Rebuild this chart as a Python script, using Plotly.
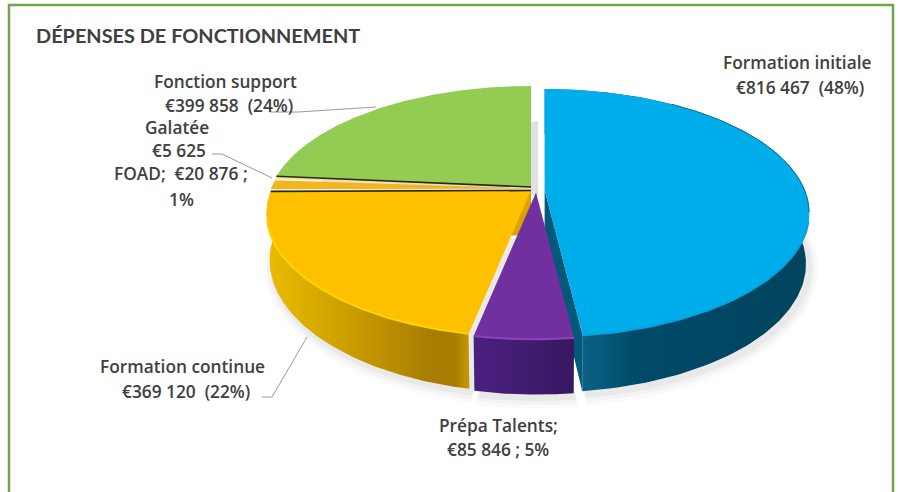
import numpy as np
import plotly.graph_objects as go

# ---- data ----
categories = ["Formation initiale", "Prépa Talents", "Formation continue", "FOAD", "Galatée", "Fonction support"]
values = [816467, 85846, 369120, 20876, 5625, 399858]

label_lines = [
    ("DÉPENSES DE FONCTIONNEMENT", 198, 35, 19.9, 700),
    ("Fonction support", 225, 81, 17.3, 600),
    ("€399 858  (24%)", 229, 105, 17.3, 600),
    ("Galatée", 177, 127, 17.3, 600),
    ("€5 625", 179, 150, 17.3, 600),
    ("FOAD;  €20 876 ;", 181, 173, 17.3, 600),
    ("1%", 181, 199, 17.3, 600),
    ("Formation initiale", 797, 62, 17.3, 600),
    ("€816 467  (48%)", 800, 87, 17.3, 600),
    ("Formation continue", 182, 366, 17.3, 600),
    ("€369 120  (22%)", 186, 391, 17.3, 600),
    ("Prépa Talents;", 498, 425, 17.3, 600),
    ("€85 846 ; 5%", 498, 449, 17.3, 600),
]
leaders = [
    ([270, 298, 376], [112, 112, 107]),
    ([212, 222, 272], [154, 154, 178]),
    ([262, 272, 307], [397, 397, 337]),
]

# ---- style / geometry of the 3D projection ----
top_colors = ["#00ADEB", "#7030A0", "#FFC000", "#F2B61C", "#F3DFA8", "#92CC52"]
rim_colors = ["#0AA0DA", "#8A45BC", "#FFD400", "#F2B61C", "#F3DFA8", "#92CC52"]
wall_scales = [
    [[0, "#0C6F96"], [0.12, "#0B6488"], [0.35, "#004A68"], [1, "#00445E"]],
    [[0, "#4A2080"], [0.5, "#421C70"], [1, "#381860"]],
    [[0, "#EBBC00"], [0.35, "#D0A200"], [0.8, "#A87E02"], [0.93, "#A87E02"], [1, "#C89A00"]],
    None, None, None,
]
face_colors = ["#045878", None, "#D9A400", None, None, None]
centers = [(544.6, 190), (536, 192.5), (531, 190.5), (531, 188.5), (531, 187.5), (531, 187)]
wall_heights = [50, 45, 45, 45, 45, 45]
RX, RY, K, H = 260, 119.7, 0.185, 45


def project(theta, cx, cy, z=0.0, grow=0.0, h=H):
    X, Y = np.sin(theta), np.cos(theta)
    w = 1 + K * Y
    x = cx + (RX + grow) * X / w * (1 - 0.012 * z)
    y = cy - (RY + grow) * Y / w + h * z / (1 + 0.55 * K * Y if h != H else w)
    return x, y


shares = np.array(values) / sum(values)
edges = np.concatenate([[0], np.cumsum(shares)]) * 2 * np.pi

fig = go.Figure()


def poly(x, y, **kw):
    fig.add_trace(go.Scatter(x=list(x), y=list(y), mode="lines", fill="toself",
                             line=kw.pop("line", dict(width=0)), hoverinfo="skip",
                             showlegend=False, **kw))


def wedge(i, z=0.0, dx=0.0, dy=0.0, grow=0.0):
    t = np.linspace(edges[i], edges[i + 1], 160)
    cx, cy = centers[i]
    x, y = project(t, cx + dx, cy + dy, z, grow, wall_heights[i])
    return np.r_[cx + dx, x, cx + dx], np.r_[cy + dy + H * z, y, cy + dy + H * z]


# soft shadow
for grow, alpha in [(9, 0.025), (6, 0.035), (3, 0.05)]:
    for i in [0, 1, 2]:
        x, y = wedge(i, z=1, dx=3, dy=3, grow=grow)
        poly(x, y, fillcolor=f"rgba(60,60,60,{alpha})")
x, y = wedge(5, z=0.2, dx=7, dy=0, grow=-33)
poly(x, y, fillcolor="rgba(120,120,120,0.22)")

# slices, back to front
for i in [5, 4, 3, 2, 0, 1]:
    cx, cy = centers[i]
    t = np.linspace(edges[i], edges[i + 1], 160)
    if wall_scales[i] is not None:
        xt, yt = project(t, cx, cy)
        xb, yb = project(t, cx, cy, 1, 0, wall_heights[i])
        poly(np.r_[xt, xb[::-1]], np.r_[yt, yb[::-1]],
             fillcolor=wall_scales[i][0][1],
             fillgradient=dict(type="horizontal", colorscale=wall_scales[i]))
    if face_colors[i] is not None:
        a = edges[i + 1]
        x0, y0 = project(a, cx, cy)
        x1, y1 = project(a, cx, cy, 1, 0, wall_heights[i])
        poly([cx, x0, x1, cx], [cy, y0, y1, cy + H], fillcolor=face_colors[i])
    x, y = wedge(i)
    poly(x, y, fillcolor=top_colors[i])
    # bevel along the outer rim
    if wall_scales[i] is not None:
        rim = t[np.cos(t) < -0.25]
        xr, yr = project(rim, cx, cy)
        fig.add_trace(go.Scatter(x=xr, y=yr, mode="lines", hoverinfo="skip", showlegend=False,
                                 line=dict(color=rim_colors[i], width=2)))

# dark edges of the thin slices
for i, a_i in [(5, 5), (2, 3)]:
    cx, cy = centers[i]
    a = edges[a_i]
    px, py = project(a, cx, cy)
    fig.add_trace(go.Scatter(x=[px, cx], y=[py, cy], mode="lines", hoverinfo="skip", showlegend=False,
                             line=dict(color="#2B2A10", width=1.6)))
# dark back rim of the blue slice
t = np.linspace(edges[0] + 0.6, edges[0] + 1.75, 60)
px, py = project(t, *centers[0])
fig.add_trace(go.Scatter(x=px, y=py, mode="lines", hoverinfo="skip", showlegend=False,
                         line=dict(color="#0A6C92", width=1)))

for lx, ly in leaders:
    fig.add_trace(go.Scatter(x=lx, y=ly, mode="lines", hoverinfo="skip", showlegend=False,
                             line=dict(color="#9A9A9A", width=1)))

for text, x, y, size, weight in label_lines:
    fig.add_annotation(x=x, y=y, text=text, showarrow=False, xanchor="center", yanchor="middle",
                       font=dict(family="Open Sans" if size < 18 else "Lato", size=size,
                                 color="#404040", weight=weight))

fig.add_shape(type="rect", x0=9, x1=893, y0=5, y1=500,
              line=dict(color="#6FA84C", width=2.5), fillcolor="rgba(0,0,0,0)")

fig.update_layout(
    width=901, height=492, margin=dict(l=0, r=0, t=0, b=0),
    paper_bgcolor="white", plot_bgcolor="white", showlegend=False,
    xaxis=dict(range=[0, 901], visible=False, fixedrange=True),
    yaxis=dict(range=[492, 0], visible=False, fixedrange=True),
)
fig.write_html("out.html", config=dict(displayModeBar=False),
               post_script="document.body.style.margin='0';document.body.style.overflow='hidden';")
